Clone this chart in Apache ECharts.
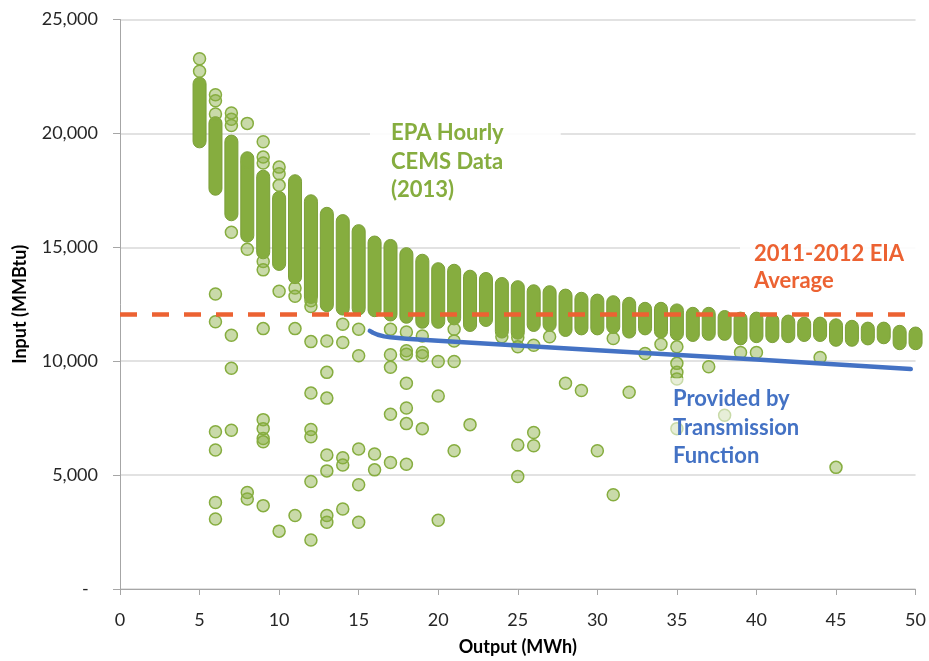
<!DOCTYPE html>
<html>
<head>
<meta charset="utf-8">
<title>Heat input vs. output</title>
<script src="https://cdn.jsdelivr.net/npm/echarts@6/dist/echarts.min.js"></script>
<style>
  html, body { margin: 0; padding: 0; background: #fff; }
  #chart { width: 929px; height: 661px; }
</style>
</head>
<body>
<div id="chart"></div>
<script>
// Hourly CEMS readings: dense ranges per output level (MWh) — centre of top and bottom marker
const bandOutput = [5, 6, 7, 8, 9, 10, 11, 12, 13, 14, 15, 16, 17, 18, 19, 20, 21, 22, 23, 24, 25, 26, 27,
  28, 29, 30, 31, 32, 33, 34, 35, 36, 37, 38, 39, 40, 41, 42, 43, 44, 45, 46, 47, 48, 49, 50];
const bandTop = [22180, 20450, 19640, 18910, 18100, 17170, 17900, 17020, 16470, 16150, 15710, 15210, 15060,
  14700, 14410, 14040, 13970, 13710, 13610, 13390, 13250, 13070, 13030, 12880, 12740, 12660, 12590, 12520,
  12300, 12300, 12230, 12080, 12080, 11940, 11870, 11870, 11790, 11740, 11650, 11650, 11575, 11510, 11430,
  11430, 11290, 11215];
const bandBottom = [19650, 17570, 16450, 15510, 14780, 14270, 13690, 12820, 12460, 12310, 12310, 12240, 12050,
  11950, 11730, 11730, 11880, 11590, 11810, 11300, 11250, 11590, 11590, 11370, 11440, 11440, 11500, 11300,
  11440, 11300, 11200, 11150, 11200, 11200, 11000, 11100, 11100, 11100, 11150, 11150, 10940, 10940, 11000,
  11050, 10790, 10790];

// Individual hourly readings outside the dense ranges
const pointOutput = [5, 5, 6, 6, 6, 7, 7, 7, 8, 8, 9, 9, 9, 10, 10, 10,
  7, 8, 9, 9, 10, 11, 11, 12, 12,
  17, 18, 19, 21, 21, 24, 25, 25, 26, 27, 31, 33, 34, 35, 35, 35, 35, 37, 39, 40, 44,
  6, 6, 7, 7, 9, 11, 12, 13, 14, 14, 15, 15, 13, 12, 13,
  17, 17, 18, 18, 19, 19, 20, 21, 18, 20, 17, 18, 18, 19, 22, 21,
  28, 29, 32, 26, 25, 26, 30, 25, 31, 38, 35, 45,
  6, 6, 7, 9, 9, 9, 9, 12, 12, 13, 13, 14, 14, 15, 15, 16, 16, 17, 18, 12,
  6, 6, 8, 8, 9, 10, 11, 12, 13, 13, 14, 15, 20];
const pointInput = [23280, 22730, 21700, 21430, 20850, 20900, 20620, 20350, 20440, 18750, 19630, 18960, 18700, 18520, 18230, 17720,
  15660, 14915, 14380, 14010, 13070, 13215, 12850, 12650, 12400,
  11400, 11285, 11110, 11400, 10890, 11070, 11040, 10630, 10700, 11070, 10995, 10340, 10745, 10630, 9905, 9510, 9220, 9760, 10385, 10385, 10165,
  12950, 11730, 11140, 9690, 11430, 11430, 10860, 10890, 11620, 10820, 11400, 10240, 9510, 8600, 8380,
  10280, 9730, 10455, 10310, 10380, 10240, 9990, 9990, 9030, 8470, 7670, 7945, 7260, 7040, 7215, 6070,
  9030, 8715, 8640, 6870, 6320, 6290, 6070, 4940, 4140, 7625, 7040, 5340,
  6900, 6100, 6970, 7435, 7040, 6605, 6460, 7000, 6680, 5880, 5185, 5765, 5445, 6145, 4575, 5925, 5230, 5550, 5475, 4720,
  3800, 3075, 4240, 3950, 3660, 2540, 3225, 2150, 3225, 2930, 3510, 2930, 3020];

// 2011-2012 EIA average heat input
const eiaOutput = [0, 50];
const eiaInput = [12050, 12050];

// Heat input from the transmission function
const tfOutput = [15.7, 15.9, 16.2, 16.6, 17, 18, 20, 30, 40, 49.7];
const tfInput = [11330, 11250, 11160, 11090, 11050, 10990, 10900, 10480, 10070, 9655];

const yTicks = [0, 5000, 10000, 15000, 20000, 25000];

const GREEN = '#86ad3f';
const FONT = 'Lato, "Open Sans", sans-serif';

const chart = echarts.init(document.getElementById('chart'), null, { renderer: 'canvas' });

const bandData = bandOutput.map((x, i) => [x, bandTop[i], bandBottom[i]]);
const pointData = pointOutput.map((x, i) => [x, pointInput[i]]);

chart.setOption({
  animation: false,
  backgroundColor: '#fff',
  grid: { left: 120, right: 13, top: 19.5, bottom: 67.7 },
  xAxis: {
    type: 'value', min: 0, max: 50, interval: 5,
    name: 'Output (MWh)', nameLocation: 'middle', nameGap: 49,
    nameTextStyle: { fontFamily: FONT, fontWeight: 'bold', fontSize: 18, color: '#000' },
    axisLine: { show: true, lineStyle: { color: '#a6a6a6', width: 1 } },
    axisTick: { show: true, length: 6, lineStyle: { color: '#a6a6a6' } },
    axisLabel: { fontFamily: FONT, fontSize: 18, color: '#262626', margin: 22 },
    splitLine: { show: false }
  },
  yAxis: {
    type: 'value', min: yTicks[0], max: yTicks[yTicks.length - 1], interval: yTicks[1] - yTicks[0],
    name: 'Input (MMBtu)', nameLocation: 'middle', nameGap: 91,
    nameTextStyle: { fontFamily: FONT, fontWeight: 'bold', fontSize: 18, color: '#000' },
    axisLine: { show: true, lineStyle: { color: '#a6a6a6', width: 1 } },
    axisTick: { show: true, length: 7, lineStyle: { color: '#a6a6a6' } },
    axisLabel: {
      fontFamily: FONT, fontSize: 18, color: '#262626', margin: 22,
      formatter: v => v === 0 ? '-  ' : v.toLocaleString('en-US')
    },
    splitLine: { show: true, lineStyle: { color: '#d9d9d9', width: 1.5 } }
  },
  series: [
    {
      name: 'CEMS ranges',
      type: 'custom',
      z: 2,
      data: bandData,
      encode: { x: 0, y: [1, 2] },
      renderItem: function (params, api) {
        const x = api.value(0);
        const top = api.coord([x, api.value(1)]);
        const bot = api.coord([x, api.value(2)]);
        const r = 6.5;
        return {
          type: 'rect',
          shape: { x: top[0] - r, y: top[1] - r, width: 2 * r, height: bot[1] - top[1] + 2 * r, r: r },
          style: { fill: GREEN, stroke: '#7b9f38', lineWidth: 1 }
        };
      }
    },
    {
      name: 'CEMS hours',
      type: 'scatter',
      z: 3,
      data: pointData,
      symbol: 'circle',
      symbolSize: 12,
      itemStyle: { color: 'rgba(135,173,64,0.45)', borderColor: GREEN, borderWidth: 1.5, opacity: 1 }
    },
    {
      name: 'Transmission function',
      type: 'line',
      z: 4,
      data: tfOutput.map((x, i) => [x, tfInput[i]]),
      smooth: false,
      showSymbol: false,
      lineStyle: { color: '#4472c4', width: 4.5, cap: 'round', join: 'round' }
    },
    {
      name: 'EIA average',
      type: 'line',
      z: 5,
      data: eiaOutput.map((x, i) => [x, eiaInput[i]]),
      showSymbol: false,
      lineStyle: { color: '#ec6232', width: 4.5, type: [17, 15] }
    }
  ],
  graphic: [
    {
      type: 'text', left: 370, top: 110, z: 100,
      style: {
        text: 'EPA Hourly\nCEMS Data\n(2013)', fill: GREEN,
        font: 'bold 22px ' + FONT, lineHeight: 28.5,
        backgroundColor: 'rgba(255,255,255,0.9)', padding: [9, 57, 6, 21]
      }
    },
    {
      type: 'text', left: 740, top: 232, z: 100,
      style: {
        text: '2011-2012 EIA\nAverage', fill: '#ec6232',
        font: 'bold 22px ' + FONT, lineHeight: 27.5,
        backgroundColor: 'rgba(255,255,255,0.9)', padding: [8, 40, 6, 14]
      }
    },
    {
      type: 'text', left: 664, top: 378, z: 100,
      style: {
        text: 'Provided by\nTransmission\nFunction', fill: '#4472c4',
        font: 'bold 22px ' + FONT, lineHeight: 28.5,
        backgroundColor: 'rgba(255,255,255,0.55)', padding: [7, 8, 0, 9]
      }
    }
  ]
});
</script>
</body>
</html>
